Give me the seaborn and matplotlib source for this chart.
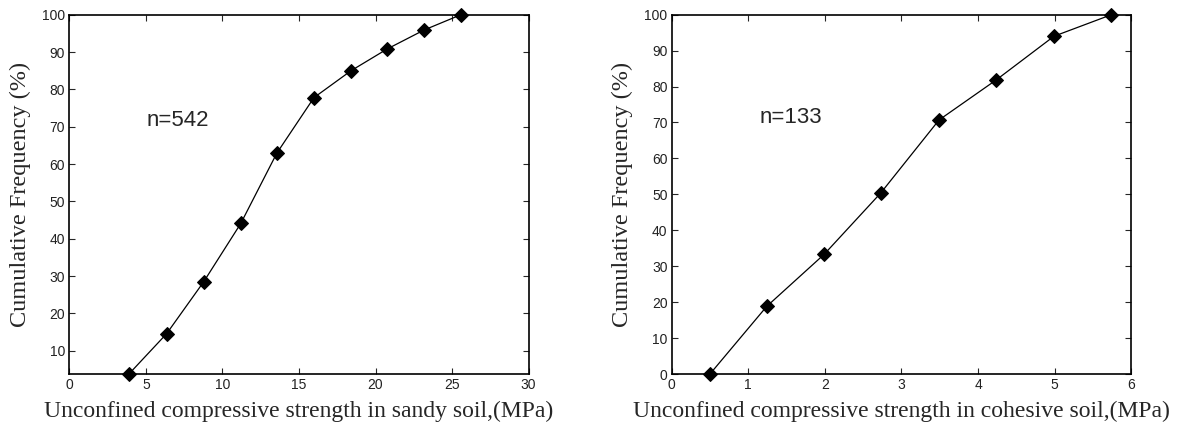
import matplotlib
matplotlib.use("Agg")
import matplotlib.pyplot as plt
import seaborn as sns
import pandas as pd

# Data
sandy_strength = [3.92, 6.36, 8.78, 11.2, 13.55, 15.98, 18.4, 20.75, 23.17, 25.58]
sandy_cumfreq = [3.9, 14.6, 28.5, 44.1, 62.9, 77.8, 85.0, 90.8, 95.9, 100.0]
cohesive_strength = [0.5, 1.24, 1.99, 2.73, 3.49, 4.24, 4.99, 5.74]
cohesive_cumfreq = [0.0, 18.8, 33.3, 50.4, 70.7, 81.9, 94.0, 100.0]

sandy_xticks = [0, 5, 10, 15, 20, 25, 30]
cohesive_xticks = [0, 1, 2, 3, 4, 5, 6]
sandy_yticks = [10, 20, 30, 40, 50, 60, 70, 80, 90, 100]
cohesive_yticks = [0, 10, 20, 30, 40, 50, 60, 70, 80, 90, 100]

sns.set_style("ticks")
plt.rcParams['font.family'] = ['Liberation Sans', 'DejaVu Sans']

fig = plt.figure(figsize=(11.84, 4.25), dpi=100)
ax1 = fig.add_axes([0.0585, 0.12, 0.388, 0.8454])
ax2 = fig.add_axes([0.5673, 0.12, 0.3882, 0.8454])

serif = ['Liberation Serif', 'DejaVu Serif']

panels = [
    (ax1, sandy_strength, sandy_cumfreq, (0, 30), (3.8, 100), sandy_xticks, sandy_yticks,
     "Unconfined compressive strength in sandy soil,(MPa)", "n=542", (5.07, 71.6)),
    (ax2, cohesive_strength, cohesive_cumfreq, (0, 6), (0, 100), cohesive_xticks, cohesive_yticks,
     "Unconfined compressive strength in cohesive soil,(MPa)", "n=133", (1.15, 71.5)),
]

for ax, xs, ys, xl, yl, xt, yt, xlabel, ntext, npos in panels:
    df = pd.DataFrame({"x": xs, "y": ys})
    sns.lineplot(data=df, x="x", y="y", ax=ax, color="black", linewidth=0.9,
                 marker="D", markersize=7, markeredgecolor="black",
                 markerfacecolor="black", sort=False, estimator=None, clip_on=False,
                 zorder=5)
    ax.set_xlim(*xl)
    ax.set_ylim(*yl)
    ax.set_xticks(xt)
    ax.set_yticks(yt)
    ax.tick_params(direction="in", length=4, width=0.8, labelsize=10,
                   top=True, right=True, labelcolor="#222222", pad=3)
    for s in ax.spines.values():
        s.set_visible(True)
        s.set_linewidth(1.2)
        s.set_color("black")
    ax.set_xlabel(xlabel, fontsize=17, family=serif, labelpad=6)
    ax.set_ylabel("Cumulative Frequency (%)", fontsize=17.5, family=serif, labelpad=8)
    ax.text(npos[0], npos[1], ntext, fontsize=16, va="center", ha="left")

fig.savefig("out.png", dpi=100)
